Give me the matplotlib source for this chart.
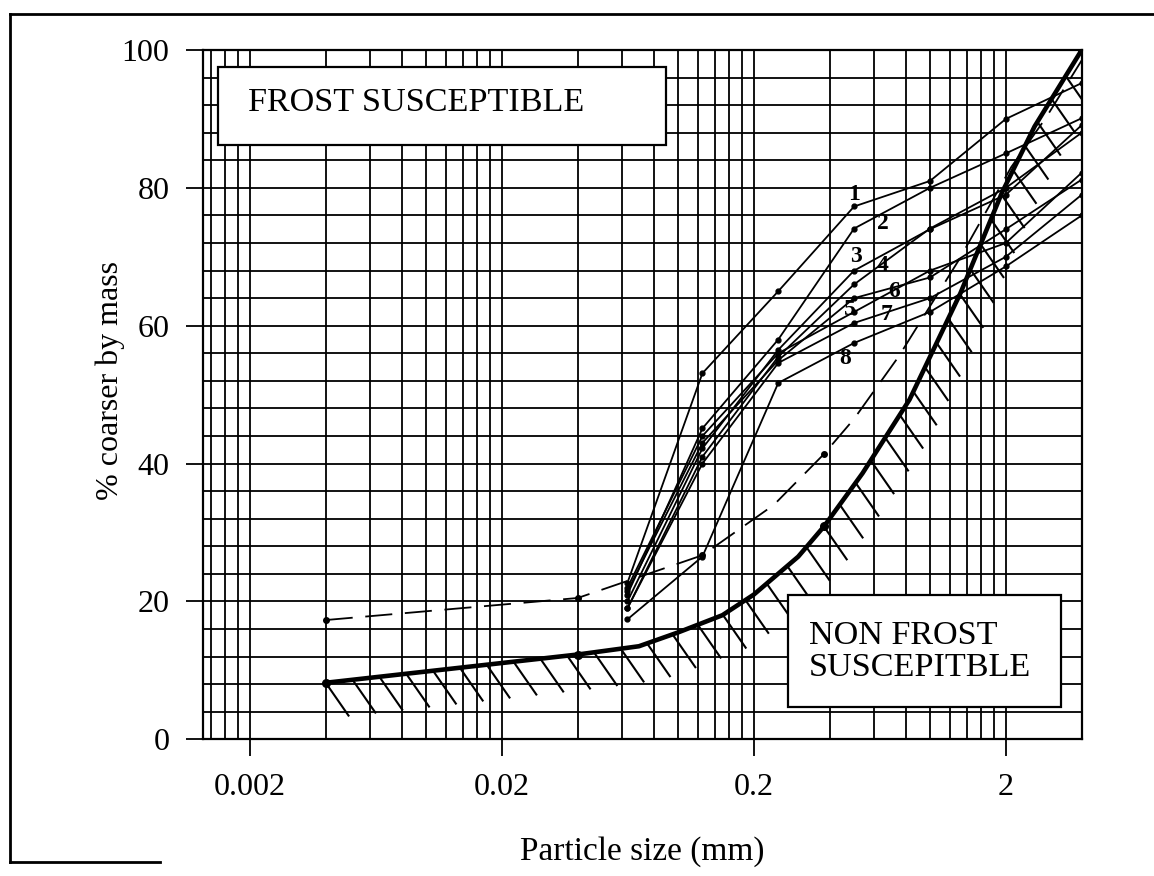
import numpy as np
import matplotlib
matplotlib.use('Agg')
import matplotlib.pyplot as plt
from matplotlib.patches import Rectangle
from matplotlib.lines import Line2D
from matplotlib.ticker import NullFormatter

plt.rcParams['font.family'] = ['Liberation Serif', 'DejaVu Serif']

# sieve sizes (mm) used for the eight tested soils
sieves = [0.063, 0.125, 0.25, 0.5, 1.0, 2.0, 4.0]
soil_1 = [22.7, 53.1, 65.0, 77.3, 81.0, 90.0, 95.2]
soil_2 = [21.0, 45.1, 58.0, 74.1, 80.0, 85.0, 90.1]
soil_3 = [20.0, 42.2, 56.5, 68.0, 74.0, 79.0, 89.1]
soil_4 = [19.0, 41.0, 55.5, 66.0, 74.1, 80.0, 88.0]
soil_5 = [22.0, 44.0, 56.0, 62.0, 68.0, 72.0, 82.2]
soil_6 = [21.5, 43.0, 55.0, 64.0, 67.0, 74.0, 81.2]
soil_7 = [19.0, 40.0, 54.6, 60.4, 64.0, 70.0, 79.0]
soil_8 = [17.4, 26.5, 51.7, 57.5, 62.0, 68.6, 76.0]
soils = [soil_1, soil_2, soil_3, soil_4, soil_5, soil_6, soil_7, soil_8]

# curve number labels (mm, %)
label_text = ['1', '2', '3', '4', '5', '6', '7', '8']
label_x = [0.50, 0.65, 0.51, 0.65, 0.48, 0.72, 0.675, 0.46]
label_y = [79.0, 74.9, 70.0, 68.8, 62.3, 64.9, 61.6, 55.3]

# dashed envelope
dashed_size = [0.004, 0.04, 0.125, 0.24, 0.38, 0.5, 0.75, 1.3, 2.1, 2.9, 4.0]
dashed_pct = [17.3, 20.5, 26.7, 34.0, 41.4, 46.5, 55.5, 69.5, 83.0, 90.3, 98.5]
dashed_dots = [0.004, 0.04, 0.125, 0.38]

# frost susceptibility limit (thick hatched line)
limit_size = [0.004, 0.04, 0.07, 0.1, 0.15, 0.2, 0.3, 0.38, 0.54, 0.83, 1.32, 1.93, 2.6, 4.0]
limit_pct = [8.2, 12.3, 13.5, 15.5, 18.0, 21.0, 26.5, 30.9, 38.6, 49.3, 64.7, 79.3, 88.9, 100.0]
limit_dots = [0.004, 0.04, 0.38, 4.0]

x_ticks = [0.002, 0.02, 0.2, 2]
x_ticklabels = ['0.002', '0.02', '0.2', '2']

W, H = 1154, 876
fig = plt.figure(figsize=(W / 100, H / 100), dpi=100)
ax = fig.add_axes([202.7 / W, 1 - 739.3 / H, 879 / W, 689.3 / H])

ax.set_xscale('log')
ax.set_xlim(0.0013, 4.0)
ax.set_ylim(0, 100)

grid_x = ([0.0014, 0.0016, 0.0018] + [0.002 * k for k in range(1, 11)]
          + [0.02 * k for k in range(2, 11)] + [0.2 * k for k in range(2, 11)])
ax.set_xticks(grid_x, minor=True)
ax.xaxis.set_minor_formatter(NullFormatter())
ax.set_xticks(x_ticks)
ax.set_xticklabels(x_ticklabels)
ax.set_yticks(range(0, 101, 20))
ax.set_yticks(range(0, 101, 4), minor=True)
ax.yaxis.set_minor_formatter(NullFormatter())
ax.tick_params(which='major', direction='out', length=12, width=1.3,
               labelsize=23, color='black')
ax.tick_params(axis='x', which='major', pad=12)
ax.tick_params(axis='y', which='major', pad=12)
ax.tick_params(which='minor', length=0)
ax.grid(which='both', color='black', lw=1.3)
ax.set_axisbelow(True)
for s in ax.spines.values():
    s.set_linewidth(1.6)

# the eight soils
for vals in soils:
    ax.plot(sieves, vals, color='black', lw=1.3, marker='o', ms=3.5, zorder=3)
for t, lx, ly in zip(label_text, label_x, label_y):
    ax.text(lx, ly, t, fontsize=17, fontweight='bold', ha='center', va='center', zorder=4)

# dashed line
ax.plot(dashed_size, dashed_pct, color='black', lw=1.3, ls=(0, (15, 7)), zorder=3)
ax.plot(dashed_dots, [dashed_pct[dashed_size.index(d)] for d in dashed_dots], 'o',
        color='black', ms=4, zorder=3)

# thick limit line with hatching below it
ax.plot(limit_size, limit_pct, color='black', lw=3.3, zorder=4, solid_capstyle='round')
ax.plot(limit_dots, [limit_pct[limit_size.index(d)] for d in limit_dots], 'o',
        color='black', ms=5.5, zorder=4)

pts = ax.transData.transform(np.column_stack([limit_size, limit_pct]))
seg = np.hypot(*np.diff(pts, axis=0).T)
arc = np.concatenate([[0], np.cumsum(seg)])
direction = np.array([0.57, -0.82])
inv = ax.transData.inverted()
for a in np.arange(0, arc[-1] - 20, 27):
    i = min(np.searchsorted(arc, a, side='right') - 1, len(seg) - 1)
    f = (a - arc[i]) / seg[i]
    p0 = pts[i] + f * (pts[i + 1] - pts[i])
    p1 = p0 + 40 * direction
    d = inv.transform(np.array([p0, p1]))
    ax.plot(d[:, 0], d[:, 1], color='black', lw=1.5, zorder=2)

# region boxes
ax.add_patch(Rectangle((0.017, 0.862), 0.51, 0.114, transform=ax.transAxes,
                       facecolor='white', edgecolor='black', lw=1.6, zorder=5))
ax.text(0.052, 0.924, 'FROST SUSCEPTIBLE', transform=ax.transAxes, fontsize=24.6,
        ha='left', va='center', zorder=6)
ax.add_patch(Rectangle((0.666, 0.047), 0.311, 0.162, transform=ax.transAxes,
                       facecolor='white', edgecolor='black', lw=1.6, zorder=5))
ax.text(0.69, 0.127, 'NON FROST\nSUSCEPITBLE', transform=ax.transAxes, fontsize=24.6,
        ha='left', va='center', linespacing=1.07, zorder=6)

ax.set_xlabel('Particle size (mm)', fontsize=24)
ax.xaxis.label.set_va('center')
ax.xaxis.set_label_coords(0.5, -0.1635)
ax.set_ylabel('% coarser by mass', fontsize=23)
ax.yaxis.label.set_va('center')
ax.yaxis.set_label_coords(-0.105, 0.52)

# page frame of the scanned figure
fig.add_artist(Line2D([10 / W, 10 / W], [1 - 862 / H, 1 - 13.5 / H], color='black', lw=2))
fig.add_artist(Line2D([10 / W, 1.0], [1 - 13.5 / H, 1 - 13.5 / H], color='black', lw=2))
fig.add_artist(Line2D([10 / W, 160 / W], [1 - 862 / H, 1 - 862 / H], color='black', lw=2))

fig.savefig('out.png', dpi=100)
